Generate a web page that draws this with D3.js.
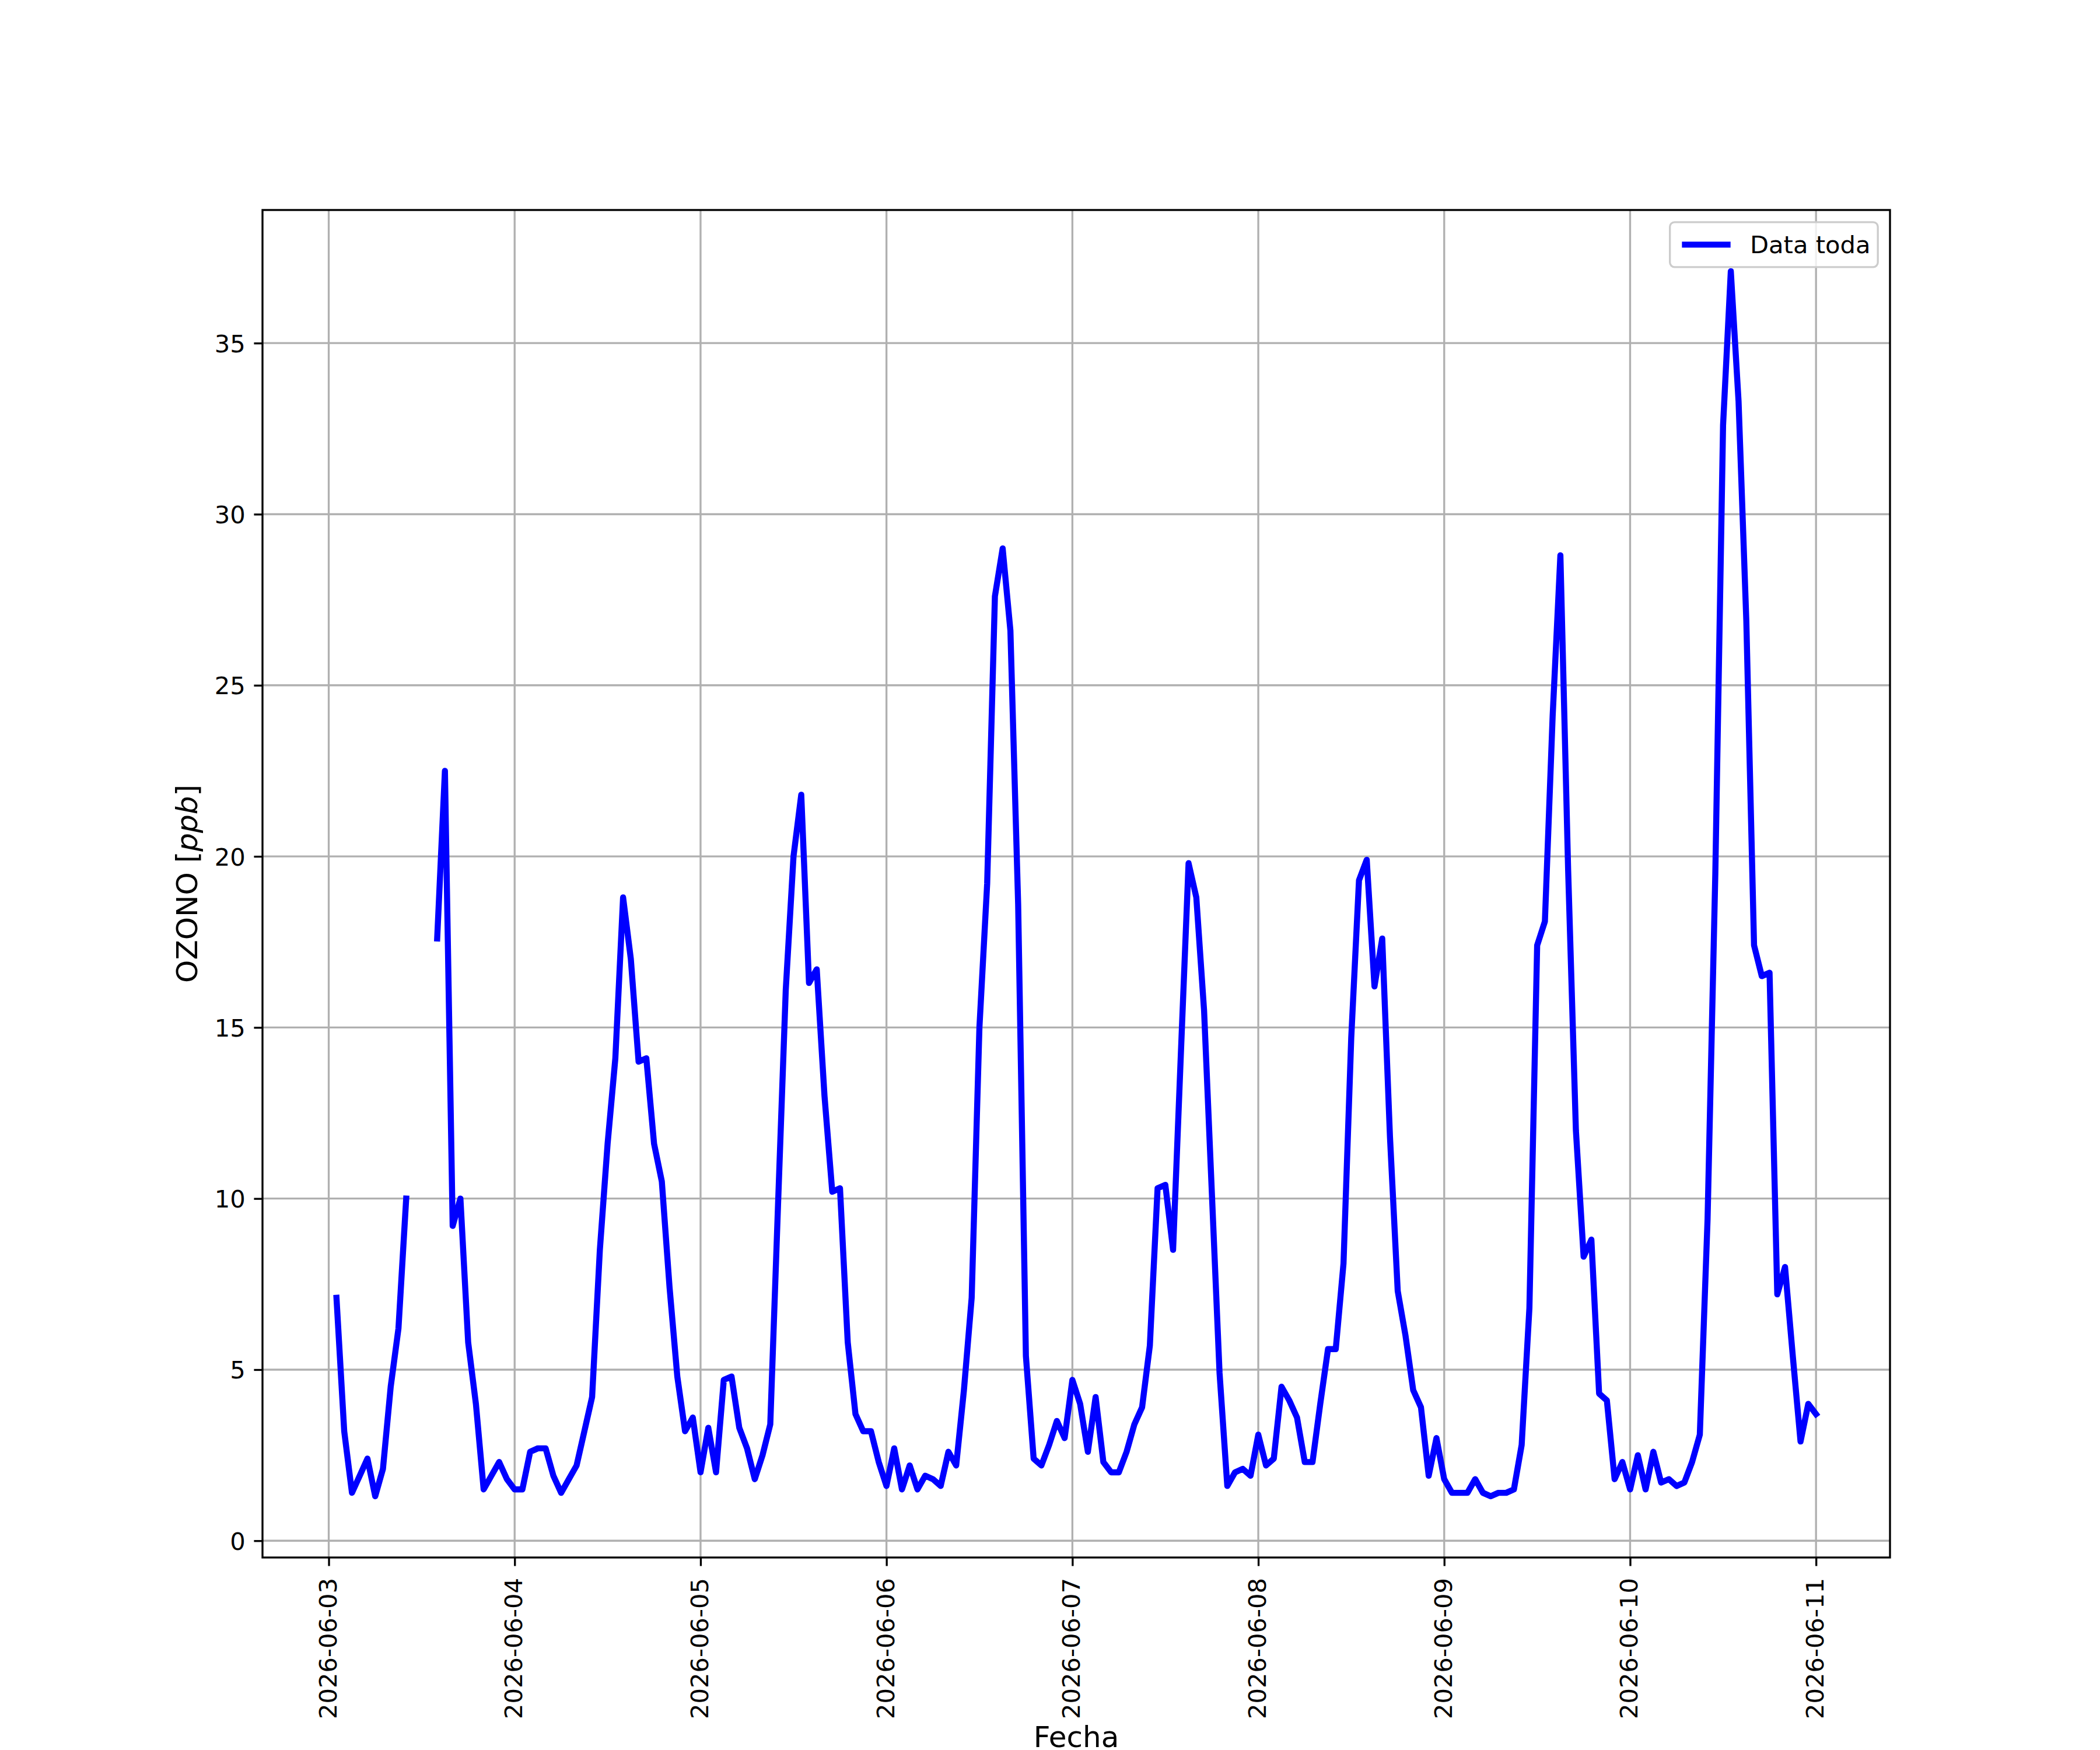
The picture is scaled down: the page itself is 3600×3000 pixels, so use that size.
<!DOCTYPE html>
<html>
<head>
<meta charset="utf-8">
<script src="https://cdn.jsdelivr.net/npm/d3@7"></script>
<style>
    html, body { margin: 0; padding: 0; background: #fff; }
    svg { display: block; font-family: "DejaVu Sans", sans-serif; }
</style>
</head>
<body>
<div id="chart"></div>
<script>
// hourly ozone readings, one array per day (hour 0 .. 23), null = no data
const days = ["2026-06-03", "2026-06-04", "2026-06-05", "2026-06-06",
              "2026-06-07", "2026-06-08", "2026-06-09", "2026-06-10"];

const ozono0603 = [null, 7.1, 3.2, 1.4, 1.9, 2.4, 1.3, 2.1, 4.5, 6.2, 10.0, null,
                   null, null, 17.6, 22.5, 9.2, 10.0, 5.8, 4.0, 1.5, 1.9, 2.3, 1.8];
const ozono0604 = [1.5, 1.5, 2.6, 2.7, 2.7, 1.9, 1.4, 1.8, 2.2, 3.2, 4.2, 8.5,
                   11.6, 14.1, 18.8, 17.0, 14.0, 14.1, 11.6, 10.5, 7.4, 4.8, 3.2, 3.6];
const ozono0605 = [2.0, 3.3, 2.0, 4.7, 4.8, 3.3, 2.7, 1.8, 2.5, 3.4, 9.8, 16.1,
                   20.0, 21.8, 16.3, 16.7, 13.0, 10.2, 10.3, 5.8, 3.7, 3.2, 3.2, 2.3];
const ozono0606 = [1.6, 2.7, 1.5, 2.2, 1.5, 1.9, 1.8, 1.6, 2.6, 2.2, 4.4, 7.1,
                   15.0, 19.2, 27.6, 29.0, 26.6, 18.6, 5.4, 2.4, 2.2, 2.8, 3.5, 3.0];
const ozono0607 = [4.7, 4.0, 2.6, 4.2, 2.3, 2.0, 2.0, 2.6, 3.4, 3.9, 5.7, 10.3,
                   10.4, 8.5, 14.2, 19.8, 18.8, 15.5, 10.2, 4.9, 1.6, 2.0, 2.1, 1.9];
const ozono0608 = [3.1, 2.2, 2.4, 4.5, 4.1, 3.6, 2.3, 2.3, 4.0, 5.6, 5.6, 8.1,
                   14.7, 19.3, 19.9, 16.2, 17.6, 11.8, 7.3, 6.0, 4.4, 3.9, 1.9, 3.0];
const ozono0609 = [1.8, 1.4, 1.4, 1.4, 1.8, 1.4, 1.3, 1.4, 1.4, 1.5, 2.8, 6.8,
                   17.4, 18.1, 24.1, 28.8, 19.6, 12.0, 8.3, 8.8, 4.3, 4.1, 1.8, 2.3];
const ozono0610 = [1.5, 2.5, 1.5, 2.6, 1.7, 1.8, 1.6, 1.7, 2.3, 3.1, 9.4, 19.5,
                   32.6, 37.1, 33.3, 26.9, 17.4, 16.5, 16.6, 7.2, 8.0, 5.4, 2.9, 4.0];
const lastDay = "2026-06-11";
const ozono0611 = [3.7];

const yTicks = [0, 5, 10, 15, 20, 25, 30, 35];
const seriesName = "Data toda";
const xTitle = "Fecha";

// build the time series
const perDay = [ozono0603, ozono0604, ozono0605, ozono0606,
                ozono0607, ozono0608, ozono0609, ozono0610];
const parseDay = d3.utcParse("%Y-%m-%d");
const data = [];
days.forEach((day, i) => {
    const t0 = parseDay(day);
    perDay[i].forEach((v, h) => data.push({ t: d3.utcHour.offset(t0, h), v: v }));
});
ozono0611.forEach((v, h) => data.push({ t: d3.utcHour.offset(parseDay(lastDay), h), v: v }));

const valid = data.filter(d => d.v !== null);

// figure geometry (12x10 in at 300 dpi, matplotlib default subplot box)
const width = 3600, height = 3000;
const pt = 300 / 72;
const plotLeft = 450, plotRight = 3240, plotTop = 360, plotBottom = 2670;

// matplotlib style 5% margins
const tExt = d3.extent(valid, d => +d.t);
const vExt = d3.extent(valid, d => d.v);
const tPad = (tExt[1] - tExt[0]) * 0.05;
const vPad = (vExt[1] - vExt[0]) * 0.05;

const x = d3.scaleUtc()
    .domain([new Date(tExt[0] - tPad), new Date(tExt[1] + tPad)])
    .range([plotLeft, plotRight]);
const y = d3.scaleLinear()
    .domain([vExt[0] - vPad, vExt[1] + vPad])
    .range([plotBottom, plotTop]);

const svg = d3.select("#chart").append("svg")
    .attr("width", width)
    .attr("height", height);

svg.append("rect").attr("width", width).attr("height", height).attr("fill", "#fff");

const xTicks = x.ticks(d3.utcDay.every(1));
const gridColor = "#b0b0b0";
const tickLen = 3.5 * pt;
const tickFont = 10 * pt;
const labelFont = 12 * pt;
const lineWidth = 2.5 * pt;

// grid
const grid = svg.append("g");
grid.selectAll(".gx").data(xTicks).enter().append("line")
    .attr("x1", d => x(d)).attr("x2", d => x(d))
    .attr("y1", plotTop).attr("y2", plotBottom)
    .attr("stroke", gridColor).attr("stroke-width", 0.8 * pt);
grid.selectAll(".gy").data(yTicks).enter().append("line")
    .attr("x1", plotLeft).attr("x2", plotRight)
    .attr("y1", d => y(d)).attr("y2", d => y(d))
    .attr("stroke", gridColor).attr("stroke-width", 0.8 * pt);

// the series
const line = d3.line()
    .defined(d => d.v !== null)
    .x(d => x(d.t))
    .y(d => y(d.v));

svg.append("path")
    .datum(data)
    .attr("d", line)
    .attr("fill", "none")
    .attr("stroke", "#0000ff")
    .attr("stroke-width", lineWidth)
    .attr("stroke-linejoin", "round")
    .attr("stroke-linecap", "square");

// axes
const xAxis = svg.append("g")
    .attr("transform", `translate(0,${plotBottom})`)
    .call(d3.axisBottom(x).tickValues(xTicks).tickFormat(d3.utcFormat("%Y-%m-%d"))
        .tickSize(tickLen).tickPadding(0));
xAxis.select(".domain").remove();
xAxis.selectAll(".tick line").attr("stroke", "#000").attr("stroke-width", 0.8 * pt);
xAxis.selectAll(".tick text")
    .attr("fill", "#000")
    .style("font-size", tickFont + "px")
    .style("font-family", "DejaVu Sans")
    .attr("transform", "rotate(-90)")
    .attr("text-anchor", "end")
    .attr("x", -35)
    .attr("y", 0)
    .attr("dy", "0.3em");

const yAxis = svg.append("g")
    .attr("transform", `translate(${plotLeft},0)`)
    .call(d3.axisLeft(y).tickValues(yTicks).tickFormat(d3.format("d"))
        .tickSize(tickLen).tickPadding(3.5 * pt));
yAxis.select(".domain").remove();
yAxis.selectAll(".tick line").attr("stroke", "#000").attr("stroke-width", 0.8 * pt);
yAxis.selectAll(".tick text")
    .attr("fill", "#000")
    .style("font-size", tickFont + "px")
    .style("font-family", "DejaVu Sans")
    .attr("dy", "0.36em");

// spines
svg.append("rect")
    .attr("x", plotLeft).attr("y", plotTop)
    .attr("width", plotRight - plotLeft).attr("height", plotBottom - plotTop)
    .attr("fill", "none")
    .attr("stroke", "#000")
    .attr("stroke-width", 0.8 * pt);

// axis titles
svg.append("text")
    .attr("x", (plotLeft + plotRight) / 2)
    .attr("y", 2995)
    .attr("text-anchor", "middle")
    .style("font-size", labelFont + "px")
    .text(xTitle);

const yTitle = svg.append("text")
    .attr("transform", `translate(338,${(plotTop + plotBottom) / 2}) rotate(-90)`)
    .attr("text-anchor", "middle")
    .style("font-size", labelFont + "px");
yTitle.append("tspan").text("OZONO [");
yTitle.append("tspan").style("font-style", "italic").text("ppb");
yTitle.append("tspan").text("]");

// legend, upper right
const fs = tickFont;
const legend = svg.append("g");
const legBox = legend.append("rect");
const legText = legend.append("text")
    .style("font-size", fs + "px")
    .attr("fill", "#000")
    .text(seriesName);
const textW = legText.node().getComputedTextLength();
const boxW = 0.4 * fs + 2 * fs + 0.8 * fs + textW + 0.4 * fs;
const boxH = 77;
const boxX = plotRight - 0.5 * fs - boxW;
const boxY = plotTop + 0.5 * fs;
legBox
    .attr("x", boxX).attr("y", boxY)
    .attr("width", boxW).attr("height", boxH)
    .attr("rx", 8).attr("ry", 8)
    .attr("fill", "#fff").attr("fill-opacity", 0.8)
    .attr("stroke", "#cccccc").attr("stroke-width", 0.8 * pt);
legend.append("line")
    .attr("x1", boxX + 0.4 * fs + 4).attr("x2", boxX + 2.4 * fs + 4)
    .attr("y1", boxY + boxH / 2).attr("y2", boxY + boxH / 2)
    .attr("stroke", "#0000ff")
    .attr("stroke-width", lineWidth);
legText
    .attr("x", boxX + 3.2 * fs + 4)
    .attr("y", boxY + boxH / 2)
    .attr("dy", "0.36em");
</script>
</body>
</html>
